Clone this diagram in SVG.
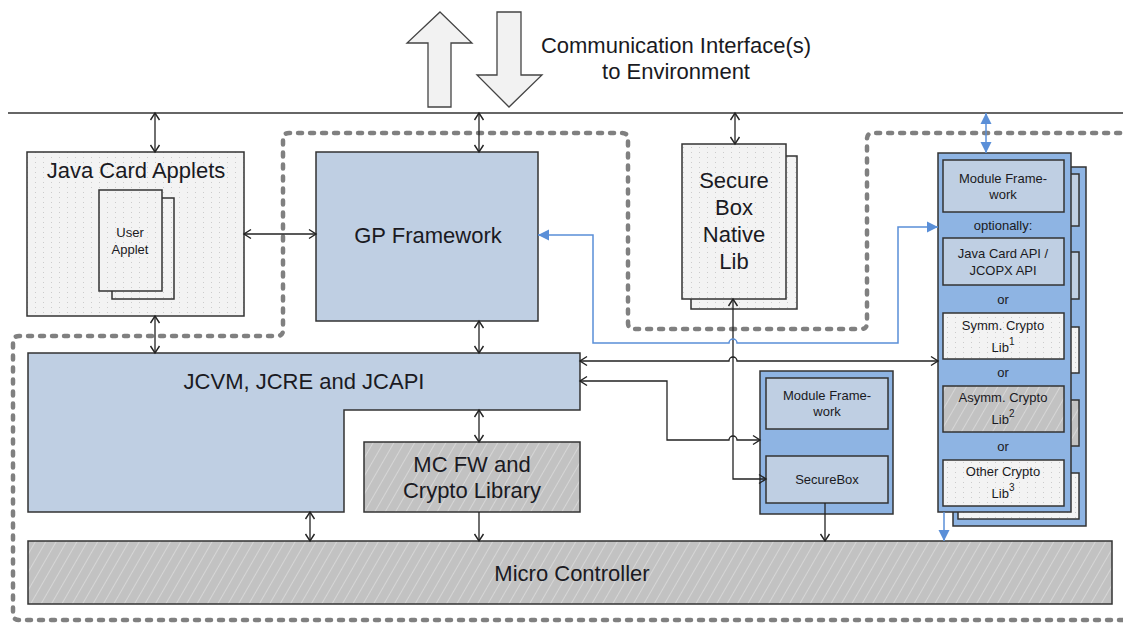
<svg xmlns="http://www.w3.org/2000/svg" width="1123" height="624" viewBox="0 0 1123 624">
<defs>
<pattern id="dots" width="8" height="5" patternUnits="userSpaceOnUse"><rect width="8" height="5" fill="#f3f3f3"/><rect x="3" y="2" width="1" height="1" fill="#cccccc"/></pattern>
<pattern id="hatch" width="9" height="9" patternUnits="userSpaceOnUse" patternTransform="rotate(30)"><rect width="9" height="9" fill="#c2c2c2"/><line x1="4.5" y1="0" x2="4.5" y2="9" stroke="#d6d6d6" stroke-width="1"/></pattern>
<marker id="ah" viewBox="-9 -6 11 12" refX="0" refY="0" markerWidth="11" markerHeight="12" markerUnits="userSpaceOnUse" orient="auto-start-reverse"><path d="M-7,-4.5 L0,0 L-7,4.5" fill="none" stroke="#222" stroke-width="1.4"/></marker>
<marker id="bh" viewBox="-12 -7 13 14" refX="0" refY="0" markerWidth="13" markerHeight="14" markerUnits="userSpaceOnUse" orient="auto-start-reverse"><path d="M-11,-5.5 L0,0 L-11,5.5 Z" fill="#5a8fd8"/></marker>
<style>
.lb{fill:#bfcfe3;stroke:#333;stroke-width:1.5}
.mb{fill:#8eb4e3;stroke:#333;stroke-width:1.5}
.dt{fill:url(#dots);stroke:#333;stroke-width:1.5}
.ht{fill:url(#hatch);stroke:#333;stroke-width:1.5}
.big{fill:#f2f2f2;stroke:#444;stroke-width:1.3}
.c{fill:none;stroke:#222;stroke-width:1.3;marker-end:url(#ah)}
.d{marker-start:url(#ah)}
.bl{fill:none;stroke:#5a8fd8;stroke-width:1.5;marker-end:url(#bh)}
.bd{marker-start:url(#bh)}
.dash{fill:none;stroke:#808080;stroke-width:4.5;stroke-dasharray:4 8;stroke-linecap:round}
text{font-family:"Liberation Sans",Arial,sans-serif;fill:#1a1a22;text-anchor:middle}
.t22{font-size:22px}
.t13{font-size:13px}
.sup{font-size:10px}
</style>
</defs>
<rect width="1123" height="624" fill="#fff"/>

<g id="boundary">
<path class="dash" d="M1123,620 H19 Q13,620 13,614 V342 Q13,336 19,336 H277 Q283,336 283,330 V139 Q283,133 289,133 H622 Q628,133 628,139 V323 Q628,329 634,329 H861 Q867,329 867,323 V139 Q867,133 873,133 H1123"/>
</g>

<g id="comm-interface">
<polygon class="big" points="440,12 472,43 451,43 451,107 428,107 428,43 407,43"/>
<polygon class="big" points="497,12 521,12 521,75 542,75 509,107 477,75 497,75"/>
<text class="t22" x="676" y="53">Communication Interface(s)</text>
<text class="t22" x="676" y="79">to Environment</text>
</g>

<g id="java-card-applets">
<rect class="dt" x="27" y="152" width="217" height="164"/>
<text class="t22" x="136" y="178">Java Card Applets</text>
<rect class="dt" x="112" y="198" width="62" height="101"/>
<rect class="dt" x="99" y="190" width="63" height="101"/>
<text class="t13" x="130" y="237">User</text>
<text class="t13" x="130" y="254">Applet</text>
</g>

<g id="gp-framework">
<rect class="lb" x="316" y="152" width="222" height="169"/>
<text class="t22" x="428" y="243">GP Framework</text>
</g>

<g id="securebox-native-lib">
<rect class="dt" x="691" y="156" width="106" height="153"/>
<rect class="dt" x="682" y="144" width="104" height="155"/>
<text class="t22" x="734" y="188">Secure</text>
<text class="t22" x="734" y="215">Box</text>
<text class="t22" x="734" y="242">Native</text>
<text class="t22" x="734" y="269">Lib</text>
</g>

<g id="jcvm">
<path class="lb" d="M28,353 H580 V410 H344 V512 H28 Z"/>
<text class="t22" x="304" y="389">JCVM, JCRE and JCAPI</text>
</g>

<g id="mc-fw">
<rect class="ht" x="364" y="442" width="216" height="70"/>
<text class="t22" x="472" y="472">MC FW and</text>
<text class="t22" x="472" y="498">Crypto Library</text>
</g>

<g id="micro-controller">
<rect class="ht" x="28" y="541" width="1084" height="63"/>
<text class="t22" x="572" y="581">Micro Controller</text>
</g>

<g id="securebox-module">
<rect class="mb" x="760" y="371" width="133" height="143"/>
<rect class="lb" x="766" y="378" width="122" height="51"/>
<text class="t13" x="827" y="400">Module Frame-</text>
<text class="t13" x="827" y="416">work</text>
<rect class="lb" x="766" y="456" width="122" height="47"/>
<text class="t13" x="827" y="484">SecureBox</text>
</g>

<g id="optional-modules">
<rect class="mb" x="953" y="167" width="133" height="359"/>
<rect class="lb" x="958" y="174" width="121" height="52"/>
<rect class="lb" x="958" y="252" width="121" height="47"/>
<rect class="dt" x="958" y="327" width="121" height="46"/>
<rect class="ht" x="958" y="400" width="121" height="46"/>
<rect class="dt" x="958" y="473" width="121" height="46"/>
<rect class="mb" x="938" y="153" width="133" height="359"/>
<rect class="lb" x="943" y="160" width="121" height="52"/>
<text class="t13" x="1003" y="183">Module Frame-</text>
<text class="t13" x="1003" y="199">work</text>
<text class="t13" x="1003" y="230">optionally:</text>
<rect class="lb" x="943" y="238" width="121" height="47"/>
<text class="t13" x="1003" y="258">Java Card API /</text>
<text class="t13" x="1003" y="275">JCOPX API</text>
<text class="t13" x="1003" y="304">or</text>
<rect class="dt" x="943" y="313" width="121" height="46"/>
<text class="t13" x="1003" y="330">Symm. Crypto</text>
<text class="t13" x="1003" y="352">Lib<tspan class="sup" dy="-7">1</tspan></text>
<text class="t13" x="1003" y="377">or</text>
<rect class="ht" x="943" y="386" width="121" height="46"/>
<text class="t13" x="1003" y="402">Asymm. Crypto</text>
<text class="t13" x="1003" y="424">Lib<tspan class="sup" dy="-7">2</tspan></text>
<text class="t13" x="1003" y="451">or</text>
<rect class="dt" x="943" y="460" width="121" height="46"/>
<text class="t13" x="1003" y="476">Other Crypto</text>
<text class="t13" x="1003" y="498">Lib<tspan class="sup" dy="-7">3</tspan></text>
</g>

<g id="connectors">
<path d="M8,113 H1123" fill="none" stroke="#333" stroke-width="1.3"/>
<path class="c d" d="M155,113 V152"/>
<path class="c d" d="M479,113 V152"/>
<path class="c d" d="M735,113 V144"/>
<path class="bl bd" d="M986,113 V153"/>
<path class="c d" d="M244,234 H316"/>
<path class="c d" d="M155,316 V353"/>
<path class="c d" d="M479,321 V353"/>
<path class="c d" d="M479,410 V442"/>
<path class="c" d="M479,512 V541"/>
<path class="c d" d="M310,512 V541"/>
<path class="c" d="M825,503 V541"/>
<path class="bl" d="M944,512 V541"/>
<path class="c d" d="M580,361 H729 A4,4 0 0 1 737,361 H938"/>
<path class="c d" d="M580,381 H667 V440 H729 A4,4 0 0 1 737,440 H760"/>
<path class="c d" d="M733,299 V479 H766"/>
<path class="bl bd" d="M538,235 H593 V343 H729 A4,4 0 0 1 737,343 H898 V227 H938"/>
</g>
</svg>
